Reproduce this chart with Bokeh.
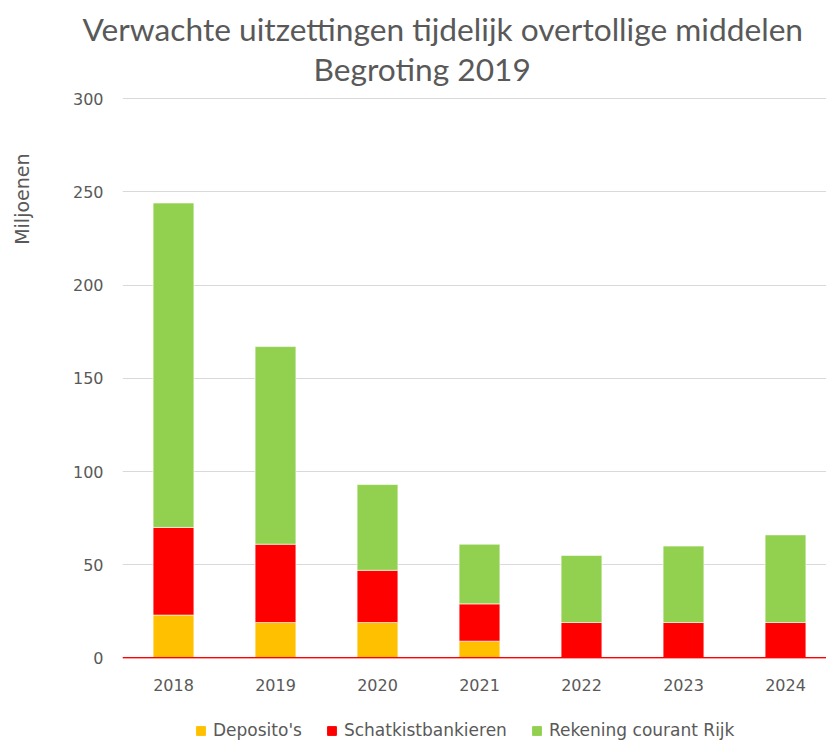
from bokeh.plotting import figure
from bokeh.layouts import column
from bokeh.models import (ColumnDataSource, Range1d, FixedTicker, Legend,
                          LegendItem, Span, Title)
from bokeh.embed import file_html
from bokeh.resources import INLINE

# ---- data ----
years = [2018, 2019, 2020, 2021, 2022, 2023, 2024]
deposito = [23, 19, 19, 9, 0, 0, 0]
schatkist = [47, 42, 28, 20, 19, 19, 19]
rekening = [174, 106, 46, 32, 36, 41, 47]
series_names = ["Deposito's", "Schatkistbankieren", "Rekening courant Rijk"]
series_keys = ["dep", "sch", "rek"]
colors = ["#FFC000", "#FF0000", "#92D050"]
y_ticks = [0, 50, 100, 150, 200, 250, 300]
title_lines = ["Verwachte uitzettingen tijdelijk overtollige middelen", "Begroting 2019"]
y_label = "Miljoenen"

source = ColumnDataSource(dict(x=years, dep=deposito, sch=schatkist, rek=rekening))

TXT = "#595959"
FONT = "DejaVu Sans"

p = figure(frame_width=704, frame_height=561, output_backend="svg", toolbar_location=None,
           x_range=Range1d(2017.5, 2017.5 + 704 / 102), y_range=Range1d(-0.3, 300.6),
           min_border_left=122, min_border_right=0, min_border_top=97,
           min_border_bottom=58)
p.outline_line_color = None
p.background_fill_color = "white"
p.border_fill_color = "white"

renderers = p.vbar_stack(series_keys, x="x", width=0.4, source=source,
                         color=colors, line_color="white", line_width=0.6)

# axes
p.xaxis.ticker = FixedTicker(ticks=years)
p.yaxis.ticker = FixedTicker(ticks=y_ticks)
for ax in (p.xaxis[0], p.yaxis[0]):
    ax.major_tick_line_color = None
    ax.minor_tick_line_color = None
    ax.major_label_text_font = FONT
    ax.major_label_text_font_size = "16px"
    ax.major_label_text_color = TXT
p.yaxis.axis_line_color = None
p.xaxis.axis_line_color = None
p.yaxis.major_label_standoff = 13
p.xaxis.major_label_standoff = 14
# blank spacer label widens the y-axis panel so the unit label sits far left
p.yaxis.axis_label = " "
p.yaxis.axis_label_text_font_size = "10px"
p.yaxis.axis_label_standoff = 18

p.xgrid.grid_line_color = None
p.ygrid.grid_line_color = "#D9D9D9"
p.ygrid.grid_line_width = 1

p.add_layout(Span(location=0, dimension="width", line_color="#FF0000", line_width=1.8))

# title (two lines): first added sits closest to the frame
p.add_layout(Title(text=title_lines[1], align="left", offset=191, text_font="Lato",
                   text_font_size="31.7px", text_font_style="normal", text_color=TXT,
                   standoff=20), "above")
p.add_layout(Title(text=title_lines[0], align="left", offset=-40, text_font="Lato",
                   text_font_size="31.7px", text_font_style="normal", text_color=TXT,
                   standoff=-20), "above")

# y label
p.add_layout(Title(text=y_label, align="right", offset=56, text_font=FONT,
                   text_font_size="19px", text_font_style="normal", text_color=TXT,
                   standoff=10), "left")

# legend strip below the chart (its frame lines up with the chart's frame)
lg = figure(width=826, height=24, output_backend="svg", toolbar_location=None,
            x_range=Range1d(0, 1), y_range=Range1d(0, 1), x_axis_type=None, y_axis_type=None,
            min_border=0)
lg.outline_line_color = None
lg.xgrid.grid_line_color = None
lg.ygrid.grid_line_color = None
# same series drawn outside the strip's visible range, only to feed the legend
legend_renderers = lg.vbar_stack(series_keys, x="x", width=0.4, source=source, color=colors)
legend = Legend(items=[LegendItem(label=n, renderers=[r]) for n, r in zip(series_names, legend_renderers)],
                location=(73, 0), orientation="horizontal", glyph_width=11, glyph_height=11,
                label_standoff=7, spacing=24, padding=0, margin=0, border_line_color=None,
                background_fill_alpha=0, label_text_font=FONT, label_text_font_size="17px",
                label_text_color=TXT)
lg.add_layout(legend, "center")

layout = column(p, lg, spacing=0)
open("out.html", "w").write(file_html(layout, INLINE))
